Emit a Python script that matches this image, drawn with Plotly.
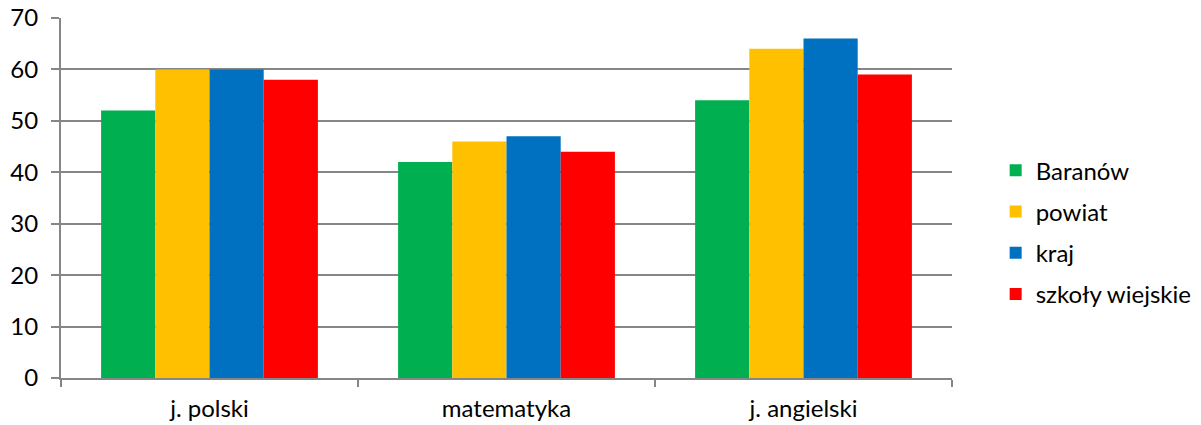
import plotly.graph_objects as go

categories = ["j. polski", "matematyka", "j. angielski"]
series_names = ["Baranów", "powiat", "kraj", "szkoły wiejskie"]
baranow = [52, 42, 54]
powiat = [60, 46, 64]
kraj = [60, 47, 66]
szkoly = [58, 44, 59]
y_ticks = [0, 10, 20, 30, 40, 50, 60, 70]

colors = ["#00B050", "#FFC000", "#0070C0", "#FF0000"]
values = [baranow, powiat, kraj, szkoly]

fig = go.Figure()
for i, (name, vals) in enumerate(zip(series_names, values)):
    fig.add_trace(go.Bar(x=categories, y=vals, name=name, marker_color=colors[i],
                         marker_line_width=0, legendgroup=f"g{i}"))

FONT_FAMILY = "Lato, Open Sans, sans-serif"
font = dict(family=FONT_FAMILY, size=24, color="#000000")
fig.update_layout(
    width=1201, height=425,
    margin=dict(l=53, r=257, t=10, b=55),
    paper_bgcolor="white", plot_bgcolor="white",
    barmode="group", bargap=0.27, bargroupgap=0,
    font=font,
    showlegend=True,
    legend=dict(x=1.049, y=0.405, xanchor="left", yanchor="middle",
                font=dict(family=FONT_FAMILY, size=24, color="#000000"),
                tracegroupgap=7, bgcolor="rgba(0,0,0,0)"),
    xaxis=dict(showline=True, linecolor="#868686", linewidth=2, automargin=False,
               ticks="outside", tickson="boundaries", ticklen=7, tickcolor="#868686", tickwidth=2,
               ticklabelstandoff=8,
               showgrid=False, tickfont=font),
    yaxis=dict(range=[0, 70], tickvals=y_ticks, showline=True, linecolor="#868686", linewidth=2,
               automargin=False, ticklabelstandoff=8, ticklabeloverflow="allow",
               ticks="outside", ticklen=8, tickcolor="#868686", tickwidth=2,
               showgrid=True, gridcolor="#868686", gridwidth=2, zeroline=False,
               tickfont=font),
)
fig.write_html("out.html", config={"displayModeBar": False})
